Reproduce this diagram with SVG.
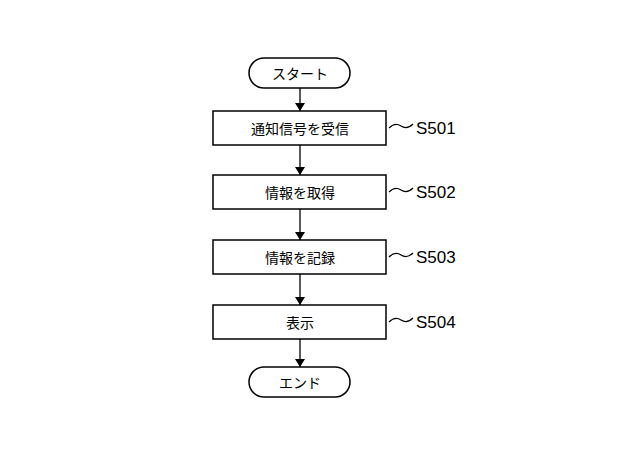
<svg xmlns="http://www.w3.org/2000/svg" width="640" height="470" viewBox="0 0 640 470">
<defs>
<style>
.s{fill:#fff;stroke:#000;stroke-width:1.5}
.t{font-family:"Noto Sans CJK JP",sans-serif;font-size:14px;text-anchor:middle;dominant-baseline:central}
.l{font-family:"Liberation Sans Narrow","Liberation Sans",sans-serif;font-size:17px;dominant-baseline:central}
.c{fill:none;stroke:#000;stroke-width:1.2}
</style>
<marker id="a" markerWidth="8" markerHeight="10" refX="8" refY="5" orient="auto" markerUnits="userSpaceOnUse"><path d="M0,0 L8,5 L0,10 z"/></marker>
</defs>
<rect width="640" height="470" fill="#fff"/>
<g id="conn" stroke="#000" stroke-width="1.3" fill="none">
<line x1="300" y1="88" x2="300" y2="111" marker-end="url(#a)"/>
<line x1="300" y1="145" x2="300" y2="175" marker-end="url(#a)"/>
<line x1="300" y1="209" x2="300" y2="240" marker-end="url(#a)"/>
<line x1="300" y1="274" x2="300" y2="305" marker-end="url(#a)"/>
<line x1="300" y1="339" x2="300" y2="367" marker-end="url(#a)"/>
</g>
<g id="start"><rect class="s" x="249" y="58" width="101" height="30" rx="15"/><text class="t" x="300" y="73">スタート</text></g>
<g id="s501"><rect class="s" x="213" y="111" width="173" height="34"/><text class="t" x="300" y="128">通知信号を受信</text><path class="c" d="M389,128 q6,-6 12,-2 t12,-2"/><text class="l" x="416" y="128">S501</text></g>
<g id="s502"><rect class="s" x="213" y="175" width="173" height="34"/><text class="t" x="300" y="192">情報を取得</text><path class="c" d="M389,192 q6,-6 12,-2 t12,-2"/><text class="l" x="416" y="192">S502</text></g>
<g id="s503"><rect class="s" x="213" y="240" width="173" height="34"/><text class="t" x="300" y="257">情報を記録</text><path class="c" d="M389,257 q6,-6 12,-2 t12,-2"/><text class="l" x="416" y="257">S503</text></g>
<g id="s504"><rect class="s" x="213" y="305" width="173" height="34"/><text class="t" x="300" y="322">表示</text><path class="c" d="M389,322 q6,-6 12,-2 t12,-2"/><text class="l" x="416" y="322">S504</text></g>
<g id="end"><rect class="s" x="249" y="367" width="101" height="30" rx="15"/><text class="t" x="300" y="382">エンド</text></g>
</svg>
